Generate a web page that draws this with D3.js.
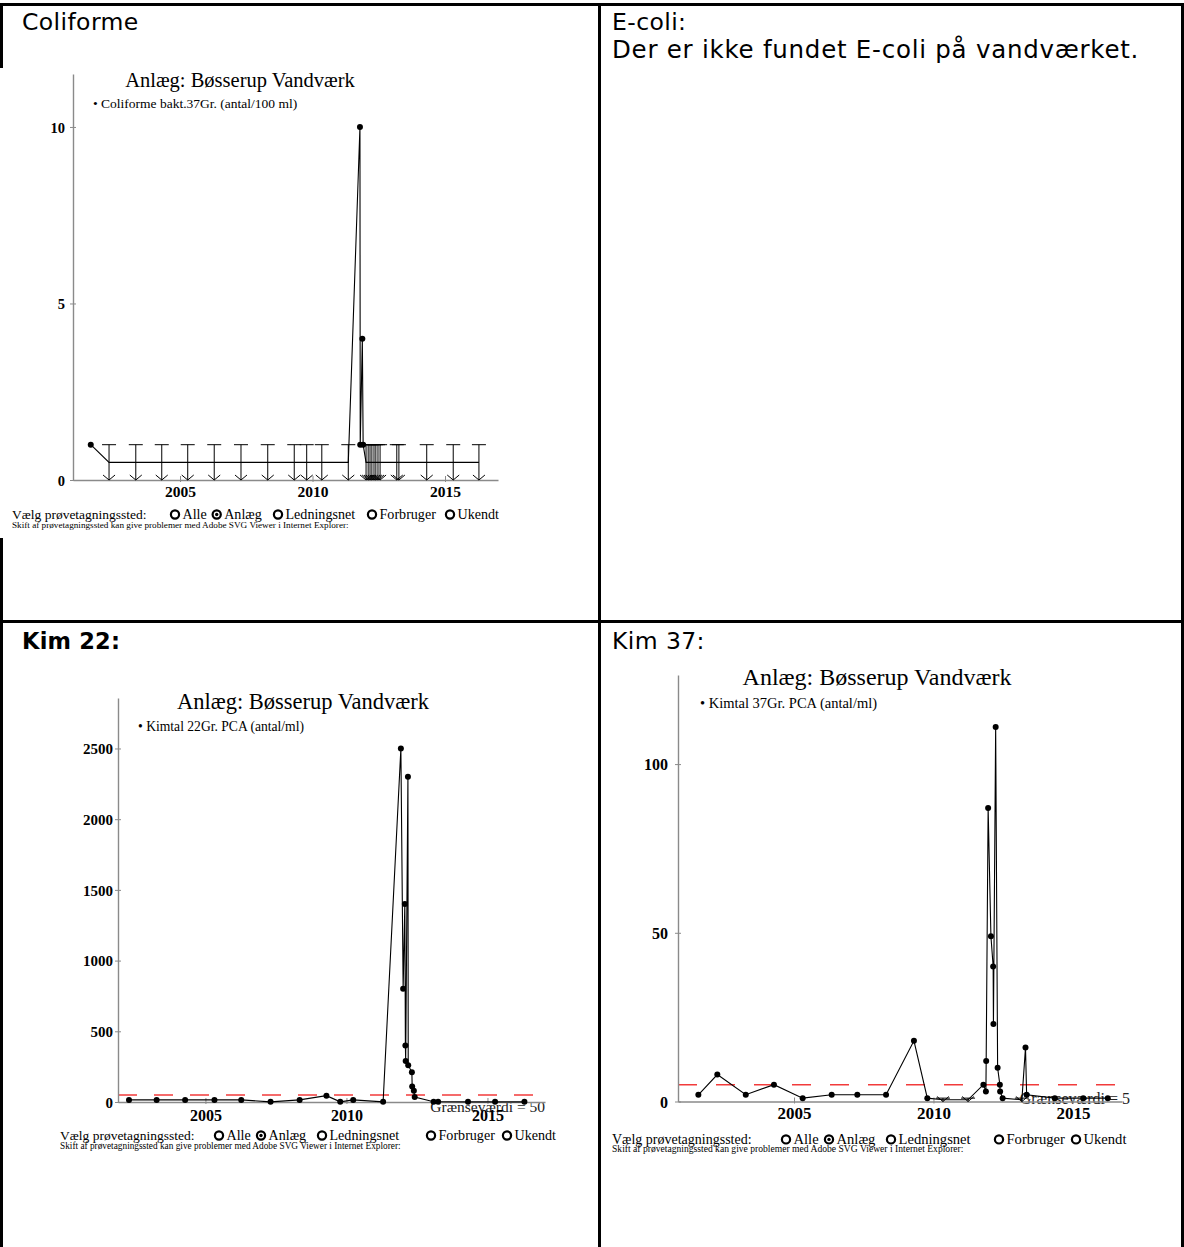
<!DOCTYPE html>
<html><head><meta charset="utf-8">
<script src="https://cdn.jsdelivr.net/npm/d3@7"></script>
<style>body{margin:0;background:#fff}svg{display:block}</style>
</head><body>
<svg id="c" width="1184" height="1247"></svg>
<script>
// ---------------- DATA ----------------
const yearTicks = [2005, 2010, 2015];
const plantTitle = "Anlæg: Bøsserup Vandværk";
const radioLabels = ["Alle", "Anlæg", "Ledningsnet", "Forbruger", "Ukendt"];
const selectedRadio = 1;

// Coliforme bakt. 37Gr. (antal/100 ml) ; "<" = below detection limit
const coliDates = [2001.63, 2002.32, 2003.33, 2004.31, 2005.29, 2006.29, 2007.30, 2008.31, 2009.31, 2009.78, 2010.35, 2011.35,
  2011.79, 2011.80, 2011.88, 2011.91,
  2012.02, 2012.10, 2012.17, 2012.24, 2012.32, 2012.39, 2012.47, 2012.55,
  2013.18, 2013.26, 2014.31, 2015.31, 2016.28];
const coliValues = [1, 1, 1, 1, 1, 1, 1, 1, 1, 1, 1, 1,
  10, 1, 4, 1,
  1, 1, 1, 1, 1, 1, 1, 1,
  1, 1, 1, 1, 1];
const coliQualifier = ["", "<", "<", "<", "<", "<", "<", "<", "<", "<", "<", "<",
  "", "", "", "",
  "<", "<", "<", "<", "<", "<", "<", "<",
  "<", "<", "<", "<", "<"];
const coliYTicks = [0, 5, 10];

// Kimtal 22Gr. PCA (antal/ml)
const kim22Dates = [2002.29, 2003.27, 2004.28, 2005.32, 2006.27, 2007.31, 2008.34, 2009.29, 2009.78, 2010.24, 2011.30,
  2011.93, 2012.01, 2012.07, 2012.09, 2012.10, 2012.18, 2012.19, 2012.32, 2012.33, 2012.39, 2012.42,
  2013.09, 2013.25, 2014.31, 2015.27, 2016.31];
const kim22Values = [15, 15, 15, 15, 15, 1, 15, 45, 1, 15, 1,
  2500, 800, 1400, 400, 290, 2300, 260, 210, 110, 80, 35,
  2, 2, 1, 1, 1];
const kim22YTicks = [0, 500, 1000, 1500, 2000, 2500];
const kim22Limit = 50;

// Kimtal 37Gr. PCA (antal/ml)
const kim37Dates = [2001.57, 2002.25, 2003.27, 2004.28, 2005.31, 2006.35, 2007.27, 2008.30, 2009.30, 2009.78, 2010.34, 2011.24,
  2011.79, 2011.88, 2011.89, 2011.96, 2012.06, 2012.14, 2012.15, 2012.23, 2012.30, 2012.38, 2012.39, 2012.48,
  2013.17, 2013.30, 2013.34, 2014.35, 2015.37, 2016.25];
const kim37Values = [2, 8, 2, 5, 1, 2, 2, 2, 18, 1, 1, 1,
  5, 3, 12, 87, 49, 40, 23, 111, 10, 5, 3, 1,
  1, 16, 2, 1, 1, 1];
const kim37Qualifier = ["", "", "", "", "", "", "", "", "", "", "<", "<",
  "", "", "", "", "", "", "", "", "", "", "", "",
  "<", "", "", "", "", ""];
const kim37YTicks = [0, 50, 100];
const kim37Limit = 5;

// ---------------- DRAWING ----------------
const SANS = "'DejaVu Sans', Verdana, sans-serif";
const SERIF = "'Liberation Serif', 'Times New Roman', serif";
const AXIS = "#8a8a8a";
const svg = d3.select("#c");

// table borders
const bd = svg.append("g").attr("stroke", "#000").attr("stroke-width", 3);
bd.append("line").attr("x1", 0).attr("x2", 1184).attr("y1", 4.5).attr("y2", 4.5);
bd.append("line").attr("x1", 1.5).attr("x2", 1.5).attr("y1", 3).attr("y2", 1247);
bd.append("line").attr("x1", 599.5).attr("x2", 599.5).attr("y1", 3).attr("y2", 1247);
bd.append("line").attr("x1", 1182.5).attr("x2", 1182.5).attr("y1", 3).attr("y2", 1247);
bd.append("line").attr("x1", 0).attr("x2", 1184).attr("y1", 621.5).attr("y2", 621.5);

function cellText(x, y, t, size, bold, ls) {
  svg.append("text").attr("x", x).attr("y", y)
    .style("font-family", SANS).style("font-size", size + "px")
    .style("letter-spacing", ls + "px")
    .style("font-weight", bold ? "bold" : "normal").text(t);
}
cellText(22, 30, "Coliforme", 23.5, false, 0.4);
cellText(612, 30, "E-coli:", 23.5, false, 0.4);
cellText(612, 58, "Der er ikke fundet E-coli på vandværket.", 24.5, false, 0.75);
cellText(22, 649, "Kim 22:", 22.5, true, 0.2);
cellText(612, 649, "Kim 37:", 23.5, false, 0.4);

function drawChart(c) {
  const g = svg.append("g");
  if (c.bg) g.append("rect").attr("x", c.bg[0]).attr("y", c.bg[1]).attr("width", c.bg[2]).attr("height", c.bg[3]).attr("fill", "#fff");
  const x = d3.scaleLinear().domain(c.xDomain).range([c.left, c.right]);
  const y = d3.scaleLinear().domain([0, c.yTop]).range([c.bottom, c.top]);

  // title + legend
  g.append("text").attr("x", c.title[0]).attr("y", c.title[1]).attr("text-anchor", "middle")
    .style("font-family", SERIF).style("font-size", c.title[2] + "px").text(plantTitle);
  g.append("text").attr("x", c.legend[0]).attr("y", c.legend[1])
    .style("font-family", SERIF).style("font-size", c.legend[2] + "px").text("• " + c.legendText);

  // limit line
  if (c.limit != null) {
    g.append("line").attr("x1", c.left).attr("x2", c.right).attr("y1", y(c.limit)).attr("y2", y(c.limit))
      .attr("stroke", "#f23b3b").attr("stroke-width", 1.5).attr("stroke-dasharray", c.dash);
    g.append("text").attr("x", c.limitText[0]).attr("y", c.limitText[1]).attr("text-anchor", "end")
      .style("font-family", SERIF).style("font-size", c.limitText[2] + "px").attr("fill", "#222")
      .text("Grænseværdi = " + c.limit);
  }

  // axes
  const ya = g.append("g").attr("transform", `translate(${c.left},0)`)
    .call(d3.axisLeft(y).tickValues(c.yTicks).tickSizeInner(3).tickSizeOuter(0).tickFormat(d3.format("d")));
  ya.select(".domain").attr("stroke", AXIS).attr("stroke-width", 1.4);
  ya.selectAll(".tick line").attr("x1", -3).attr("x2", 3).attr("stroke", AXIS);
  ya.selectAll(".tick text").attr("x", -c.ylab[1]).attr("dy", "0.35em").attr("fill", "#000")
    .style("font-family", SERIF).style("font-weight", "bold").style("font-size", c.ylab[0] + "px");

  const xa = g.append("g").attr("transform", `translate(0,${c.bottom})`)
    .call(d3.axisBottom(x).tickValues(yearTicks).tickSizeOuter(0).tickFormat(d3.format("d")));
  xa.select(".domain").attr("stroke", AXIS).attr("stroke-width", 1.4);
  xa.selectAll(".tick line").attr("y1", -4).attr("y2", 2).attr("stroke", AXIS);
  xa.selectAll(".tick text").attr("y", c.xlab[1]).attr("dy", 0).attr("fill", "#000")
    .style("font-family", SERIF).style("font-weight", "bold").style("font-size", c.xlab[0] + "px");

  // data
  const pts = c.dates.map((d, i) => ({ d, v: c.values[i], q: c.qual ? c.qual[i] : "" }));
  const line = d3.line().x(p => x(p.d)).y(p => y(p.q === "<" ? p.v / 2 : p.v));
  g.append("path").attr("d", line(pts)).attr("fill", "none").attr("stroke", "#000").attr("stroke-width", 1.1);
  const y0 = y(0);
  g.selectAll(null).data(pts.filter(p => p.q === "<")).join("path")
    .attr("d", p => {
      const px = x(p.d), py = y(p.v);
      return `M${px - 7},${py}H${px + 7}M${px},${py}V${y0}M${px - 6},${y0 - 5}L${px},${y0}L${px + 6},${y0 - 5}`;
    })
    .attr("fill", "none").attr("stroke", "#000").attr("stroke-width", 1);
  g.selectAll(null).data(pts.filter(p => p.q !== "<")).join("circle")
    .attr("cx", p => x(p.d)).attr("cy", p => y(p.v)).attr("r", 3).attr("fill", "#000");

  // station selector row
  const r = c.radio;
  g.append("text").attr("x", r.x).attr("y", r.y).style("font-family", SERIF).style("font-size", r.size + "px")
    .text("Vælg prøvetagningssted:");
  radioLabels.forEach((lab, i) => {
    const cx = r.circles[i], cy = r.y - r.size * 0.33;
    g.append("circle").attr("cx", cx).attr("cy", cy).attr("r", 4.1).attr("fill", "#fff")
      .attr("stroke", "#000").attr("stroke-width", 2.2);
    if (i === selectedRadio) g.append("circle").attr("cx", cx).attr("cy", cy).attr("r", 1.7).attr("fill", "#000");
    g.append("text").attr("x", cx + 7.5).attr("y", r.y).style("font-family", SERIF).style("font-size", (r.size + 0.6) + "px").text(lab);
  });
  g.append("text").attr("x", r.x).attr("y", r.skiftY).style("font-family", SERIF).style("font-size", r.skiftSize + "px")
    .text("Skift af prøvetagningssted kan give problemer med Adobe SVG Viewer i Internet Explorer:");
}

drawChart({
  bg: [0, 68, 560, 470],
  left: 73, right: 498, top: 74, bottom: 480, xDomain: [2000.96, 2017.0], yTop: 11.5,
  yTicks: coliYTicks, dates: coliDates, values: coliValues, qual: coliQualifier,
  title: [240, 87, 20.5], legend: [93, 108, 13.5], legendText: "Coliforme bakt.37Gr. (antal/100 ml)",
  ylab: [14.5, 8], xlab: [15.5, 17],
  radio: { x: 12, y: 519, size: 13.5, circles: [175, 216.7, 278, 372, 450], skiftY: 527.5, skiftSize: 9.2 }
});

drawChart({
  left: 118, right: 545, top: 698, bottom: 1102, xDomain: [2001.90, 2017.04], yTop: 2857,
  yTicks: kim22YTicks, dates: kim22Dates, values: kim22Values, qual: null,
  limit: kim22Limit, dash: "19,17", limitText: [545, 1112, 15.5],
  title: [303, 709, 22.5], legend: [138, 731, 13.6], legendText: "Kimtal 22Gr. PCA (antal/ml)",
  ylab: [15, 5], xlab: [16, 19],
  radio: { x: 60, y: 1140, size: 13.5, circles: [219, 261, 322, 431, 507], skiftY: 1148.5, skiftSize: 9.3 }
});

drawChart({
  left: 678, right: 1122, top: 675, bottom: 1101.5, xDomain: [2000.84, 2016.76], yTop: 126.4,
  yTicks: kim37YTicks, dates: kim37Dates, values: kim37Values, qual: kim37Qualifier,
  limit: kim37Limit, dash: "19,19", limitText: [1130, 1104, 16],
  title: [877, 685, 24], legend: [700, 708, 14.5], legendText: "Kimtal 37Gr. PCA (antal/ml)",
  ylab: [16, 10], xlab: [17, 17.5],
  radio: { x: 612, y: 1144, size: 14, circles: [786, 829, 891, 999, 1076], skiftY: 1152, skiftSize: 9.6 }
});
</script>
</body></html>
